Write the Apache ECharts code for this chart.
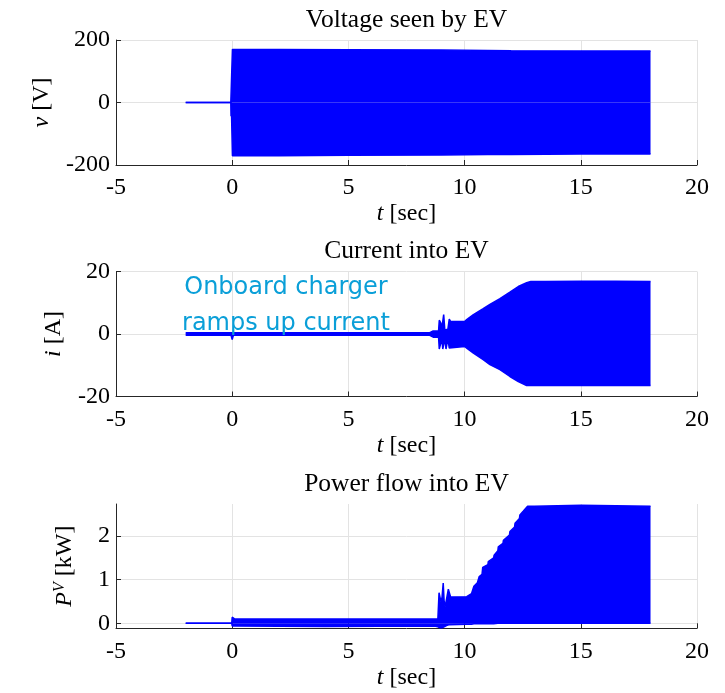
<!DOCTYPE html>
<html><head><meta charset="utf-8">
<script src="https://cdn.jsdelivr.net/npm/echarts@6/dist/echarts.min.js"></script>
<style>html,body{margin:0;padding:0;background:#fff}#c{width:725px;height:693px}</style>
</head><body><div id="c"></div>
<script>
// ---- tick labels ----
const xTicks = [-5, 0, 5, 10, 15, 20];
const vTicks = [-200, 0, 200];
const iTicks = [-20, 0, 20];
const pTicks = [0, 1, 2];

// ---- Voltage seen by EV: envelope of the 60 Hz waveform ----
const tV     = [-2, -0.06, -0.05, -0.04, 0, 0.01, 2, 5, 9, 12, 15, 18];
const vUpper = [0, 0, 0, 0, 0, 170, 170, 169, 168, 166, 165, 165];
const vLower = [0, 0, -44, 0, 0, -170, -170, -169, -168, -166, -165, -165];

// ---- Current into EV: envelope ----
const tI     = [-2, -0.05, 0, 0.05, 8.5, 8.65, 8.88, 8.91, 8.98, 9.02, 9.06, 9.1, 9.15, 9.2, 9.28, 9.34, 9.4, 10.0, 10.09, 10.38, 10.8, 11.09, 11.52, 11.95, 12.31, 12.67, 12.85, 13.5, 15, 16.5, 18];
const iUpper = [0.4, 0.4, 0.4, 0.4, 0.4, 1.0, 1.0, 4.4, 3.5, 1.4, 4.0, 6.2, 1.3, 1.2, 1.5, 4.8, 4.0, 4.0, 4.6, 6.2, 8.1, 9.5, 11.3, 13.4, 15.2, 16.4, 16.8, 16.8, 16.9, 16.9, 16.8];
const iLower = [-0.4, -0.4, -1.8, -0.4, -0.4, -1.0, -1.0, -4.8, -4.8, -1.6, -4.8, -4.8, -1.6, -4.8, -1.6, -4.5, -4.0, -4.0, -4.5, -6.1, -8.2, -9.8, -11.4, -13.6, -15.2, -16.5, -16.5, -16.5, -16.5, -16.5, -16.5];

// ---- Power flow into EV: envelope ----
const tP     = [-2, -0.02, 0, 0.03, 0.1, 4, 8.7, 8.85, 8.9, 8.94, 8.98, 9.03, 9.08, 9.12, 9.16, 9.22, 9.3, 9.35, 9.4, 10.09, 10.3, 10.4, 10.55, 10.63, 10.75, 10.78, 11.0, 11.02, 11.25, 11.27, 11.43, 11.45, 11.65, 11.67, 11.93, 11.95, 12.15, 12.17, 12.36, 12.38, 12.53, 12.71, 13, 15, 18];
const pUpper = [0, 0, 0.14, 0.1, 0.1, 0.1, 0.1, 0.1, 0.7, 0.69, 0.5, 0.6, 0.92, 0.5, 0.38, 0.55, 0.78, 0.74, 0.6, 0.61, 0.68, 0.85, 0.93, 1.07, 1.12, 1.28, 1.34, 1.41, 1.5, 1.56, 1.66, 1.75, 1.83, 1.9, 2.02, 2.1, 2.2, 2.29, 2.4, 2.48, 2.57, 2.68, 2.68, 2.7, 2.68];
const pLower = [0, 0, -0.06, -0.06, -0.06, -0.07, -0.06, -0.08, -0.1, -0.1, -0.1, -0.1, -0.1, -0.08, -0.06, -0.05, -0.03, -0.03, -0.03, -0.02, -0.02, -0.01, -0.01, -0.01, -0.01, -0.01, -0.01, -0.01, -0.01, 0, 0, 0, 0, 0, 0, 0, 0, 0, 0, 0, 0, 0, 0, 0, 0];

const SERIF = '"Liberation Serif", "DejaVu Serif", serif';
const AX = '#262626';
const GRIDC = '#e3e3e3';
const BLUE = '#0000ff';

const pair = (t, y) => t.map((x, k) => [x, y[k]]);

const grids = [
  {left: 116, width: 581, top: 40, height: 125},
  {left: 116, width: 581, top: 271.5, height: 125},
  {left: 116, width: 581, top: 504, height: 124.3}
];

function xAxis(gi) {
  return {
    type: 'value', gridIndex: gi, min: -5, max: 20, interval: 5,
    name: '{i|t} [sec]', nameLocation: 'middle', nameGap: 37,
    nameTextStyle: {fontFamily: SERIF, fontSize: 24, color: '#000',
      rich: {i: {fontFamily: SERIF, fontSize: 24, fontStyle: 'italic', color: '#000'}}},
    axisLine: {show: true, onZero: false, lineStyle: {color: AX, width: 1}},
    axisTick: {show: true, inside: true, length: 5, lineStyle: {color: AX}},
    axisLabel: {fontFamily: SERIF, fontSize: 24, color: '#000', margin: 11,
      formatter: v => xTicks.includes(v) ? String(v) : ''},
    splitLine: {show: true, lineStyle: {color: GRIDC, width: 1}}
  };
}

function yAxis(gi, min, max, interval, name, gap, rich, extra) {
  const a = {
    type: 'value', gridIndex: gi, min: min, max: max,
    name: name, nameLocation: 'middle', nameGap: gap, nameRotate: 90,
    nameTextStyle: {fontFamily: SERIF, fontSize: 24, color: '#000', rich: rich},
    axisLine: {show: true, onZero: false, lineStyle: {color: AX, width: 1}},
    axisTick: {show: true, inside: true, length: 5, lineStyle: {color: AX}},
    axisLabel: {fontFamily: SERIF, fontSize: 24, color: '#000', margin: 6},
    splitLine: {show: true, lineStyle: {color: GRIDC, width: 1}}
  };
  if (interval) a.interval = interval;
  if (extra) Object.assign(a.axisTick, {customValues: extra}), Object.assign(a.axisLabel, {customValues: extra});
  return a;
}

const italic = {fontFamily: SERIF, fontSize: 24, fontStyle: 'italic', color: '#000'};

function band(gi, t, up, lo) {
  const common = {type: 'line', xAxisIndex: gi, yAxisIndex: gi, symbol: 'none', silent: true,
    lineStyle: {color: BLUE, width: 1.5}, itemStyle: {color: BLUE},
    areaStyle: {color: BLUE, opacity: 1, origin: 0}, animation: false};
  return [
    Object.assign({data: pair(t, up)}, common),
    Object.assign({data: pair(t, lo)}, common)
  ];
}

const titleStyle = {fontFamily: SERIF, fontSize: 25.5, fontWeight: 'normal', color: '#000'};

const option = {
  backgroundColor: '#fff',
  animation: false,
  title: [
    {text: 'Voltage seen by EV', left: 406.5, top: 7, textAlign: 'center', textStyle: titleStyle, padding: 0},
    {text: 'Current into EV', left: 406.5, top: 238.5, textAlign: 'center', textStyle: titleStyle, padding: 0},
    {text: 'Power flow into EV', left: 406.5, top: 471.5, textAlign: 'center', textStyle: titleStyle, padding: 0}
  ],
  grid: grids,
  xAxis: [xAxis(0), xAxis(1), xAxis(2)],
  yAxis: [
    yAxis(0, -200, 200, 200, '{i|v} [V]', 62, {i: italic}),
    yAxis(1, -20, 20, 20, '{i|i} [A]', 50, {i: italic}),
    yAxis(2, -0.114, 2.73, null, '{i|P}{s|V} [kW]', 38,
      {i: italic, s: {fontFamily: SERIF, fontSize: 16, fontStyle: 'italic', color: '#000', verticalAlign: 'top', padding: [0, 0, 10, 0]}}, pTicks)
  ],
  series: [].concat(
    band(0, tV, vUpper, vLower),
    band(1, tI, iUpper, iLower),
    band(2, tP, pUpper, pLower)
  ),
  graphic: [{
    type: 'text', x: 286, y: 270, silent: true, z: 100,
    style: {text: 'Onboard charger\nramps up current', textAlign: 'center', textVerticalAlign: 'top',
      fontFamily: '"DejaVu Sans", sans-serif', fontSize: 24, lineHeight: 36, fill: '#0a9fd8'}
  }]
};

const chart = echarts.init(document.getElementById('c'), null, {renderer: 'canvas'});
chart.setOption(option);
</script>
</body></html>
